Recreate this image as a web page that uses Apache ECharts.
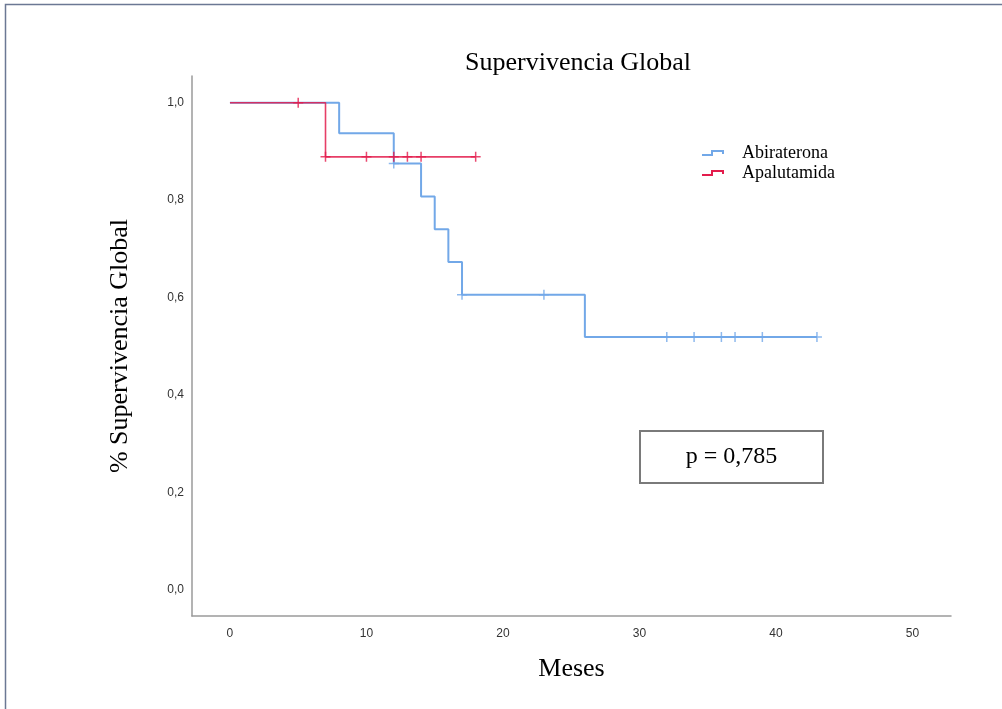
<!DOCTYPE html>
<html>
<head>
<meta charset="utf-8">
<script src="https://cdn.jsdelivr.net/npm/echarts@6/dist/echarts.min.js"></script>
<style>html,body{margin:0;padding:0;background:#fff;}#c{width:1002px;height:709px;}</style>
</head>
<body>
<div id="c"></div>
<script>
// Kaplan-Meier step data
const abiTimes = [0, 8, 12, 14, 15, 16, 17, 26, 43];
const abiSurv  = [1, 0.9375, 0.875, 0.8077, 0.7404, 0.6731, 0.6058, 0.5193, 0.5193];
const abiCensorTimes = [12, 17, 23, 32, 34, 36, 37, 39, 43];
const abiCensorSurv  = [0.875, 0.6058, 0.6058, 0.5193, 0.5193, 0.5193, 0.5193, 0.5193, 0.5193];

const apaTimes = [0, 7, 18];
const apaSurv  = [1, 0.8889, 0.8889];
const apaCensorTimes = [5, 7, 10, 12, 13, 14, 18];
const apaCensorSurv  = [1, 0.8889, 0.8889, 0.8889, 0.8889, 0.8889, 0.8889];

const xTicks = [0, 10, 20, 30, 40, 50];
const yTicks = [0, 0.2, 0.4, 0.6, 0.8, 1.0];
const seriesNames = ['Abiraterona', 'Apalutamida'];
const pText = 'p = 0,785';

const blue = '#72a8e8';
const red = '#e31c4c';
const serif = '"Liberation Serif", "Times New Roman", serif';
const sans = '"Liberation Sans", Arial, sans-serif';
const plusPath = 'path://M4.25,0h1.5v10h-1.5zM0,4.25h10v1.5h-10z';
const stepIcon = 'path://M0,4H9V0H22V4H20V2H11V6H0Z';

const zip = (a, b) => a.map((v, i) => [v, b[i]]);

const chart = echarts.init(document.getElementById('c'), null, {renderer: 'canvas'});
chart.setOption({
  animation: false,
  backgroundColor: '#fff',
  title: {
    text: 'Supervivencia Global',
    left: 573, top: 45, textAlign: 'center',
    textStyle: {fontFamily: serif, fontSize: 26, fontWeight: 'normal', color: '#000'}
  },
  legend: {
    orient: 'vertical', left: 697, top: 139,
    itemWidth: 22, itemHeight: 6, itemGap: 2,
    data: seriesNames.map(n => ({name: n, icon: stepIcon})),
    textStyle: {fontFamily: serif, fontSize: 18, color: '#000', padding: [0, 0, 0, 13]}
  },
  grid: {left: 192, right: 51, top: 76, bottom: 93},
  xAxis: {
    type: 'value', min: -2.78, max: 52.82,
    name: 'Meses', nameLocation: 'middle', nameGap: 40,
    nameTextStyle: {fontFamily: serif, fontSize: 26, color: '#000'},
    axisLine: {show: true, onZero: false, lineStyle: {color: '#9a9a9a', width: 1.5}},
    axisTick: {show: false},
    splitLine: {show: false},
    axisLabel: {customValues: xTicks, margin: 12, fontFamily: sans, fontSize: 12, color: '#333'}
  },
  yAxis: {
    type: 'value', min: -0.0534, max: 1.0548,
    name: '% Supervivencia Global', nameLocation: 'middle', nameGap: 59, nameRotate: 90,
    nameTextStyle: {fontFamily: serif, fontSize: 26, color: '#000'},
    axisLine: {show: true, onZero: false, lineStyle: {color: '#9a9a9a', width: 1.5}},
    axisTick: {show: false},
    splitLine: {show: false},
    axisLabel: {customValues: yTicks, margin: 8, fontFamily: sans, fontSize: 12, color: '#333',
      formatter: v => v.toFixed(1).replace('.', ',')}
  },
  series: [
    {
      name: seriesNames[0], type: 'line', step: 'end', data: zip(abiTimes, abiSurv),
      showSymbol: false, symbol: 'none', z: 2,
      lineStyle: {color: blue, width: 2}, itemStyle: {color: blue}
    },
    {
      name: seriesNames[1], type: 'line', step: 'end', data: zip(apaTimes, apaSurv),
      showSymbol: false, symbol: 'none', z: 3,
      lineStyle: {color: red, width: 1.6, opacity: 0.85}, itemStyle: {color: red}
    },
    {
      name: seriesNames[0], type: 'scatter', data: zip(abiCensorTimes, abiCensorSurv),
      symbol: plusPath, symbolSize: 10, z: 4, itemStyle: {color: blue}, silent: true
    },
    {
      name: seriesNames[1], type: 'scatter', data: zip(apaCensorTimes, apaCensorSurv),
      symbol: plusPath, symbolSize: 10, z: 5, itemStyle: {color: red}, silent: true
    }
  ],
  graphic: [
    {type: 'rect', shape: {x: 5.5, y: 4.5, width: 1200, height: 900},
     style: {fill: 'none', stroke: '#6b7894', lineWidth: 1.5}, z: 100},
    {type: 'rect', shape: {x: 640, y: 431, width: 183, height: 52},
     style: {fill: '#fff', stroke: '#7a7a7a', lineWidth: 2}, z: 100},
    {type: 'text', x: 731.5, y: 457, style: {text: pText, fontFamily: serif, fontSize: 24,
      fill: '#000', align: 'center', verticalAlign: 'middle'}, z: 101}
  ]
});
</script>
</body>
</html>
